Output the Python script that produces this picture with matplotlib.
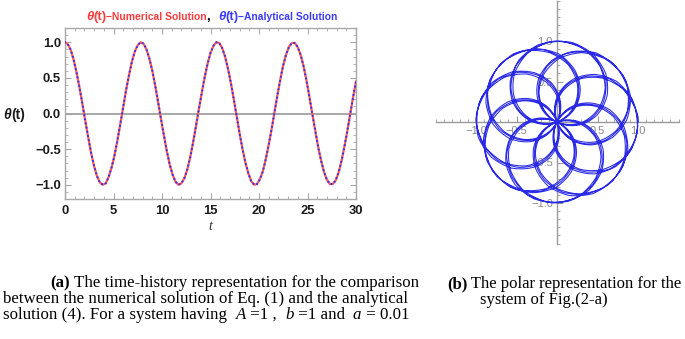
import numpy as np
import matplotlib
matplotlib.use('Agg')
import matplotlib.pyplot as plt
from matplotlib.ticker import MultipleLocator
from matplotlib.transforms import Transform
from matplotlib.path import Path

# ---------------- data ----------------
# theta(t) in hundredths, sampled every 0.3 time units
t_step = 0.3
# t = 0 ... 30  (time-history panel and start of the polar curve)
theta_0_30_x100 = [
    100, 97, 89, 75, 57, 36, 13, -11, -34, -56,
    -74, -88, -97, -100, -98, -89, -76, -59, -38, -15,
    9, 33, 54, 73, 87, 96, 100, 98, 90, 77,
    60, 39, 16, -8, -31, -53, -72, -86, -96, -100,
    -98, -91, -79, -62, -41, -18, 6, 29, 51, 70,
    85, 95, 100, 99, 92, 80, 63, 43, 20, -4,
    -28, -50, -69, -84, -95, -100, -99, -92, -81, -64,
    -44, -22, 2, 26, 48, 68, 83, 94, 99, 99,
    93, 82, 66, 46, 23, -1, -24, -47, -66, -82,
    -93, -99, -99, -94, -83, -67, -47, -25, -1, 23,
    45]
# t = 30.3 ... 94.2  (continuation used by the polar representation)
theta_30_94_x100 = [
    65, 81, 93, 99, 100, 94, 84, 68, 49,
    27, 3, -21, -44, -64, -80, -92, -99, -100, -95,
    -85, -70, -50, -28, -5, 19, 42, 62, 79, 91,
    98, 100, 95, 86, 71, 52, 30, 7, -17, -40,
    -61, -78, -91, -98, -100, -96, -86, -72, -53, -32,
    -8, 16, 39, 60, 77, 90, 98, 100, 96, 87,
    73, 55, 33, 10, -14, -37, -58, -76, -89, -97,
    -100, -97, -88, -74, -56, -35, -12, 12, 35, 57,
    75, 88, 97, 100, 97, 89, 76, 58, 37, 14,
    -10, -34, -55, -73, -87, -96, -100, -98, -90, -77,
    -59, -38, -15, 9, 32, 54, 72, 87, 96, 100,
    98, 91, 78, 61, 40, 17, -7, -30, -52, -71,
    -86, -96, -100, -98, -91, -79, -62, -42, -19, 5,
    29, 51, 70, 85, 95, 100, 99, 92, 80, 63,
    43, 21, -3, -27, -49, -68, -84, -94, -100, -99,
    -93, -81, -65, -45, -22, 2, 25, 48, 67, 83,
    94, 99, 99, 93, 82, 66, 46, 24, 0, -24,
    -46, -66, -82, -93, -99, -99, -94, -83, -67, -48,
    -26, -2, 22, 44, 64, 81, 93, 99, 100, 95,
    84, 69, 50, 27, 4, -20, -43, -63, -80, -92,
    -99, -100, -95, -85, -70, -51, -29, -6, 18, 41,
    62, 79, 91, 98, 100]

x_ticks = [0, 5, 10, 15, 20, 25, 30]
y_ticks = [-1.0, -0.5, 0.0, 0.5, 1.0]
y_tick_labels = ['\u22121.0', '\u22120.5', '0.0', '0.5', '1.0']
polar_ticks = [-1.0, -0.5, 0.5, 1.0]
polar_tick_labels = ['\u22121.0', '\u22120.5', '0.5', '1.0']

theta_numerical = np.array(theta_0_30_x100) / 100.0
theta_analytical = np.array(theta_0_30_x100) / 100.0   # coincides with numerical
t_left = np.arange(len(theta_numerical)) * t_step
theta_polar = np.array(theta_0_30_x100 + theta_30_94_x100) / 100.0
t_polar = np.arange(len(theta_polar)) * t_step

# ---------------- figure ----------------
W, H = 685, 339
fig = plt.figure(figsize=(W / 100, H / 100), dpi=100)


def fx(x):
    return x / W


def fy(y):
    return 1 - y / H


class PolarToCartesian(Transform):
    """(angle, radius) -> (x, y); segments are subdivided in polar space."""
    input_dims = 2
    output_dims = 2

    def transform_non_affine(self, values):
        values = np.asarray(values, float)
        ang, rad = values[:, 0], values[:, 1]
        return np.column_stack([rad * np.cos(ang), rad * np.sin(ang)])

    def transform_path_non_affine(self, path):
        ip = path.interpolated(10)
        return Path(self.transform_non_affine(ip.vertices), ip.codes)


# Left panel: time history
ax = fig.add_axes([fx(65), fy(199), (356 - 65) / W, (199 - 28) / H])
ax.axhline(0, color='#a0a0a0', lw=1.3, zorder=2)
ax.plot(t_left, theta_numerical, color='#ff5a5a', lw=1.6, zorder=3)
ax.plot(t_left, theta_analytical, color='#3030f0', lw=1.6, ls=(0, (0.01, 1.9)),
        dash_capstyle='round', zorder=4)
ax.set_xlim(0, 30)
ax.set_ylim(-1.2, 1.2)
ax.set_xticks(x_ticks, [str(v) for v in x_ticks], fontweight='bold', family='Liberation Sans')
ax.set_yticks(y_ticks, y_tick_labels, fontweight='bold', family='Liberation Sans')
ax.xaxis.set_minor_locator(MultipleLocator(1))
ax.yaxis.set_minor_locator(MultipleLocator(0.1))
ax.tick_params(which='both', direction='in', top=True, right=True, color='#a8a8a8',
               labelsize=9.4, labelcolor='#1a1a1a')
ax.tick_params(which='major', length=4, width=0.8)
ax.tick_params(which='minor', length=2, width=0.6)
ax.tick_params(axis='y', pad=3)
ax.tick_params(axis='x', pad=4)
for s in ax.spines.values():
    s.set_color('#a8a8a8')
    s.set_linewidth(1)

# Right panel: polar representation
ax2 = fig.add_axes([fx(435.5), fy(243.5), 243 / W, 243 / H])
ax2.patch.set_visible(False)
ax2.plot(t_polar, theta_polar, color='#2a2ae6', lw=0.75, zorder=3,
         transform=PolarToCartesian() + ax2.transData)
ax2.set_xlim(-1.5, 1.5)
ax2.set_ylim(-1.5, 1.5)
ax2.spines['left'].set_position(('data', 0))
ax2.spines['bottom'].set_position(('data', 0))
ax2.spines['top'].set_visible(False)
ax2.spines['right'].set_visible(False)
for s in ('left', 'bottom'):
    ax2.spines[s].set_color('#9a9a9a')
    ax2.spines[s].set_linewidth(1)
    ax2.spines[s].set_zorder(1)
ax2.set_xticks(polar_ticks, polar_tick_labels, family='Liberation Sans')
ax2.set_yticks(polar_ticks, polar_tick_labels, family='Liberation Sans')
ax2.xaxis.set_minor_locator(MultipleLocator(0.1))
ax2.yaxis.set_minor_locator(MultipleLocator(0.1))
ax2.tick_params(which='both', direction='in', color='#9a9a9a', labelsize=8,
                labelcolor='#8a8a8a', pad=3)
ax2.tick_params(which='major', length=4, width=0.8)
ax2.tick_params(which='minor', length=2.5, width=0.6)
ax2.set_axisbelow(True)

renderer = fig.canvas.get_renderer()


def seq(x, y, parts):
    for txt, kw in parts:
        t = fig.text(fx(x), fy(y), txt, ha='left', va='baseline', **kw)
        x += t.get_window_extent(renderer).width


RED = '#ff3b3b'
BLUE = '#3b3bff'
big = dict(fontsize=9.5, fontweight='bold', family='Liberation Sans')
small = dict(fontsize=7.4, fontweight='bold', family='Liberation Sans')
seq(86, 20, [
    ('\u03b8', dict(big, color=RED, style='italic')),
    ('(t)', dict(big, color=RED)),
    ('\u2212Numerical Solution', dict(small, color=RED)),
    (',  ', dict(big, color='black')),
    ('\u03b8', dict(big, color=BLUE, style='italic')),
    ('(t)', dict(big, color=BLUE)),
    ('\u2212Analytical Solution', dict(small, color=BLUE)),
])

lab = dict(fontsize=10, fontweight='bold', family='Liberation Sans', color='#1a1a1a')
seq(3, 119, [('\u03b8', dict(lab, style='italic')), ('(t)', lab)])
fig.text(fx(210), fy(227), 't', ha='center', va='center', fontsize=10, style='italic',
         family='Liberation Serif', color='#333333')

serif = dict(fontsize=12.2, family='Liberation Serif', color='black')
serifb = dict(serif, fontweight='bold')
serifi = dict(serif, style='italic')
seq(50, 287, [('(a)', serifb), (' The time-history representation for the comparison', serif)])
seq(3, 303, [('between the numerical solution of Eq. (1) and the analytical', serif)])
seq(3, 319, [('solution (4). For a system having  ', serif), ('A', serifi), (' =1 ,  ', serif),
             ('b', serifi), (' =1 and  ', serif), ('a', serifi), (' = 0.01', serif)])
serif_r = dict(serif, fontsize=12.0)
seq(447, 288, [('(b)', dict(serif_r, fontweight='bold')),
               (' The polar representation for the', serif_r)])
seq(480, 304, [('system of Fig.(2-a)', serif_r)])

fig.savefig('out.png', dpi=100)
